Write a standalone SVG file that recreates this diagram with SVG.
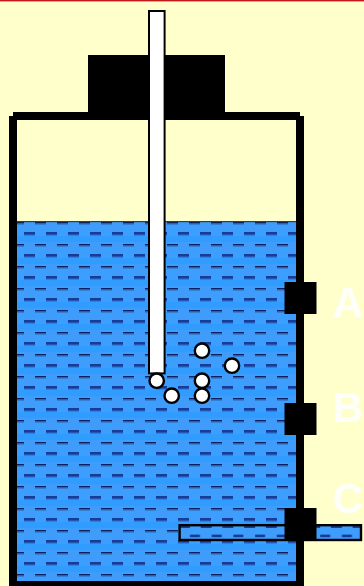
<svg xmlns="http://www.w3.org/2000/svg" width="364" height="586" viewBox="0 0 364 586">
<style>
.k{fill:#000}
.b{fill:#fff;stroke:#000;stroke-width:2.4}
.l{font-family:"Liberation Sans",Arial,sans-serif;font-weight:700;font-size:42px;fill:#fffffa}
</style>
<defs>
<pattern id="w" x="2" y="222" width="22" height="22" patternUnits="userSpaceOnUse">
<rect width="22" height="22" fill="#409cfa"/>
<rect x="11" y="0" width="11" height="22" fill="#3c9eff"/>
<rect x="0" y="14" width="22" height="6" fill="#309cff"/>
<rect x="0" y="10" width="11" height="2.8" fill="#163c98"/>
<rect x="0" y="12.8" width="11" height="1" fill="#2f78d8"/>
<rect x="11" y="0" width="11" height="1.6" fill="#0a2060"/>
<rect x="11" y="1.6" width="11" height="1.2" fill="#3278c8"/>
</pattern>
<pattern id="p" x="179" y="525" width="21.7" height="22" patternUnits="userSpaceOnUse">
<rect width="21.7" height="22" fill="#409cfa"/>
<rect x="11" y="0" width="10.7" height="22" fill="#3c9eff"/>
<rect x="11" y="9.6" width="10" height="2.6" fill="#163c98"/>
<rect x="0" y="0" width="11" height="3" fill="#163c98"/>
</pattern>
</defs>
<rect id="background" width="364" height="586" fill="#ffffcc"/>
<rect id="top-rule" width="364" height="1.4" fill="#c01818"/>
<g id="water"><rect x="17" y="222" width="280" height="359" fill="url(#w)"/><rect x="17" y="221" width="280" height="1.2" fill="#3d3d30"/></g>
<g id="cap"><rect class="k" x="88" y="55" width="137" height="65"/></g>
<g id="vessel" class="k">
<rect x="9" y="116" width="8" height="470"/>
<rect x="13" y="112" width="287" height="8"/>
<rect x="296" y="116" width="8" height="470"/>
<rect x="9" y="581" width="291" height="5"/>
</g>
<g id="tube"><rect x="149" y="11" width="15.6" height="362.4" fill="#fff" stroke="#000" stroke-width="2"/></g>
<g id="bubbles">
<circle class="b" cx="156.7" cy="380.7" r="7.2"/>
<circle class="b" cx="171.7" cy="395.7" r="7.2"/>
<circle class="b" cx="202" cy="350.7" r="7.2"/>
<circle class="b" cx="232" cy="365.7" r="7.2"/>
<circle class="b" cx="202" cy="380.7" r="7.2"/>
<circle class="b" cx="202" cy="395.7" r="7.2"/>
</g>
<g id="outlet"><rect x="179.6" y="525.2" width="181.4" height="14.8" fill="url(#p)" stroke="#000" stroke-width="2.4"/></g>
<g id="port-a"><rect class="k" x="284.5" y="282" width="32" height="32"/><text class="l" x="333" y="317">A</text></g>
<g id="port-b"><rect class="k" x="284.5" y="403" width="32" height="32"/><text class="l" x="333" y="422">B</text></g>
<g id="port-c"><rect class="k" x="284.5" y="508" width="32" height="33"/><text class="l" x="333" y="513">C</text></g>
</svg>
